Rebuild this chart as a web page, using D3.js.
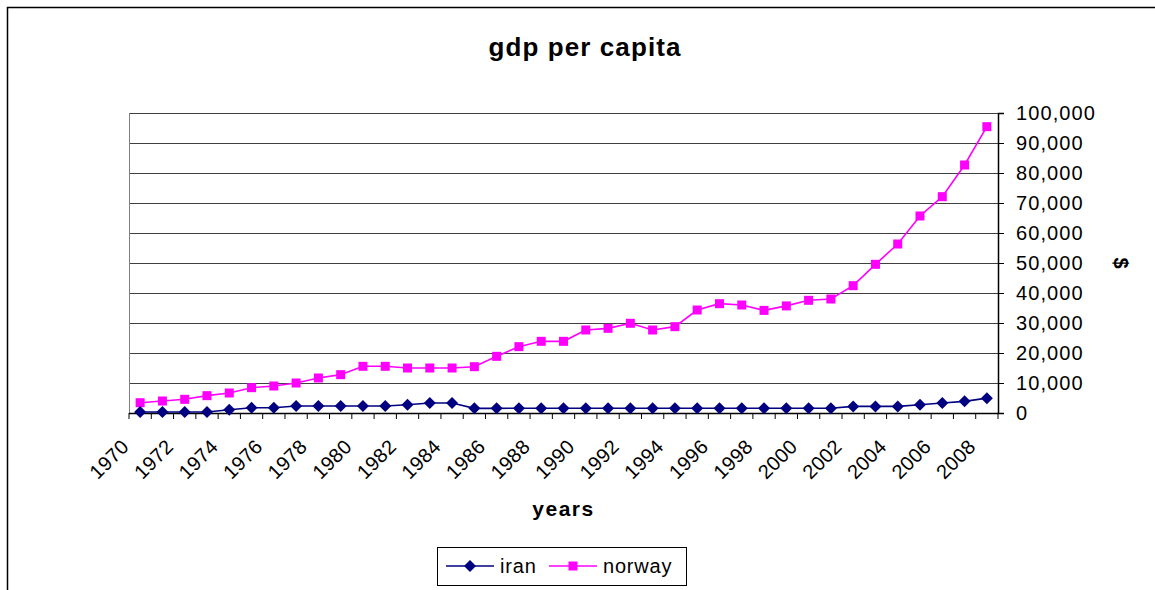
<!DOCTYPE html>
<html><head><meta charset="utf-8">
<script src="https://cdn.jsdelivr.net/npm/d3@7"></script>
<style>body{margin:0;background:#fff;} svg{display:block;font-family:Arial,"Liberation Sans",sans-serif;}</style>
</head><body>
<svg id="c" width="1155" height="590"></svg>
<script>
const years = d3.range(1970, 2009).map(String);
const iran = [320,320,320,350,1100,1770,1770,2320,2320,2320,2320,2320,2770,3320,3320,1550,1550,1600,1600,1600,1600,1600,1600,1600,1600,1600,1600,1600,1600,1600,1600,1600,2200,2200,2200,2770,3320,3880,4950];
const norway = [3430,4000,4560,5780,6670,8440,9000,10000,11670,12780,15560,15560,15000,15000,15000,15440,18890,22110,23890,23890,27670,28220,29900,27670,28780,34330,36440,36000,34200,35700,37560,38000,42440,49560,56330,65670,72110,82670,95440];
const yTicks = [0,10000,20000,30000,40000,50000,60000,70000,80000,90000,100000];
const seriesNames = ["iran","norway"];
const colors = ["#000080","#FF00FF"];

const svg = d3.select("#c");
const L=129, R=998, T=113, B=413;

svg.append("rect").attr("x",7.5).attr("y",7.5).attr("width",1170).attr("height",620)
  .attr("fill","#fff").attr("stroke","#000").attr("stroke-width",1.5);

const x = d3.scaleBand().domain(years).range([L,R]);
const y = d3.scaleLinear().domain([0,100000]).range([B,T]);

// gridlines
svg.append("g").selectAll("line").data(yTicks).join("line")
  .attr("x1",L).attr("x2",R).attr("y1",d=>Math.round(y(d))+0.5).attr("y2",d=>Math.round(y(d))+0.5)
  .attr("stroke","#404040").attr("stroke-width",1);
svg.append("line").attr("x1",L+0.5).attr("x2",L+0.5).attr("y1",T).attr("y2",B).attr("stroke","#808080");

// right axis
const ay = svg.append("g").attr("transform",`translate(${R},0)`)
  .call(d3.axisRight(y).tickValues(yTicks).tickFormat(d3.format(",")).tickSize(6).tickPadding(12));
ay.select(".domain").attr("stroke","#000").attr("stroke-width",1.5);
ay.selectAll(".tick line").attr("stroke","#000");
ay.selectAll("text").attr("font-size",20).attr("letter-spacing",1.1).attr("fill","#000").attr("font-family","Arial,'Liberation Sans',sans-serif");

// bottom axis
const bounds = years.map(d=>x(d)).concat([R]);
svg.append("line").attr("x1",L).attr("x2",R).attr("y1",B+0.5).attr("y2",B+0.5).attr("stroke","#000").attr("stroke-width",1.5);
svg.append("g").selectAll("line").data(bounds).join("line")
  .attr("x1",d=>d).attr("x2",d=>d).attr("y1",B).attr("y2",B+6).attr("stroke","#000");

svg.append("g").selectAll("text").data(years.filter((d,i)=>i%2===0)).join("text")
  .attr("transform",d=>`translate(${x(d)+x.bandwidth()/2-10},${B+35}) rotate(-45)`)
  .attr("text-anchor","end").attr("font-size",20).attr("letter-spacing",0.3).text(d=>d);

// lines
const line = d3.line().x((d,i)=>x(years[i])+x.bandwidth()/2).y(d=>y(d));
[iran, norway].forEach((s,k)=>{
  svg.append("path").datum(s).attr("d",line).attr("fill","none").attr("stroke",colors[k]).attr("stroke-width",1.6);
});
const sq = 9, dm = 6;
svg.append("g").selectAll("rect").data(norway).join("rect")
  .attr("x",(d,i)=>x(years[i])+x.bandwidth()/2-sq/2).attr("y",d=>y(d)-sq/2)
  .attr("width",sq).attr("height",sq).attr("fill",colors[1]);
svg.append("g").selectAll("path").data(iran).join("path")
  .attr("transform",(d,i)=>`translate(${x(years[i])+x.bandwidth()/2},${y(d)})`)
  .attr("d",`M0,${-dm}L${dm},0L0,${dm}L${-dm},0Z`).attr("fill",colors[0]);

// titles
svg.append("text").attr("x",585).attr("y",56).attr("text-anchor","middle").attr("font-size",26).attr("letter-spacing",1.1).attr("font-weight","bold").text("gdp per capita");
svg.append("text").attr("x",(L+R)/2).attr("y",516).attr("text-anchor","middle").attr("font-size",21).attr("letter-spacing",1.5).attr("font-weight","bold").text("years");
svg.append("text").attr("transform",`translate(1114,${(T+B)/2}) rotate(90)`).attr("text-anchor","middle").attr("font-size",20).attr("font-weight","bold").text("$");

// legend
const lg = svg.append("g");
lg.append("rect").attr("x",437.5).attr("y",547.5).attr("width",249).attr("height",38).attr("fill","#fff").attr("stroke","#000");
const lx = [446,549], tx=[500,603];
seriesNames.forEach((n,k)=>{
  lg.append("line").attr("x1",lx[k]).attr("x2",lx[k]+48).attr("y1",566).attr("y2",566).attr("stroke",colors[k]).attr("stroke-width",1.6);
  if(k===0) lg.append("path").attr("transform",`translate(${lx[k]+24},566)`).attr("d",`M0,${-dm}L${dm},0L0,${dm}L${-dm},0Z`).attr("fill",colors[0]);
  else lg.append("rect").attr("x",lx[k]+24-sq/2).attr("y",566-sq/2).attr("width",sq).attr("height",sq).attr("fill",colors[1]);
  lg.append("text").attr("x",tx[k]).attr("y",573).attr("font-size",20).attr("letter-spacing",0.8).text(n);
});
</script>
</body></html>
